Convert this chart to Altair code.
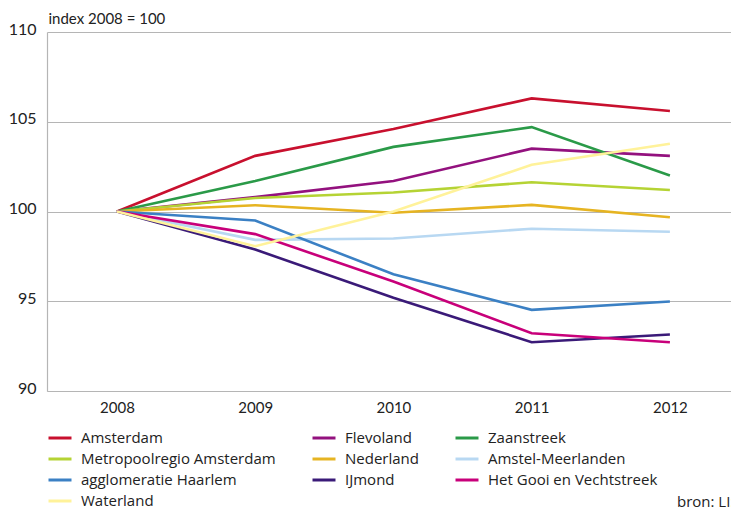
import altair as alt
import pandas as pd

years = [2008, 2009, 2010, 2011, 2012]
series = [
    "Amsterdam", "Flevoland", "Zaanstreek",
    "Metropoolregio Amsterdam", "Nederland", "Amstel-Meerlanden",
    "agglomeratie Haarlem", "IJmond", "Het Gooi en Vechtstreek",
    "Waterland",
]
colors = [
    "#c8102e", "#93117e", "#2a9a48",
    "#b5d334", "#e6b422", "#b8d8f2",
    "#3b80c4", "#3a1a78", "#c8007a",
    "#fff29a",
]
amsterdam = [100, 103.1, 104.6, 106.3, 105.6]
flevoland = [100, 100.8, 101.7, 103.5, 103.1]
zaanstreek = [100, 101.7, 103.6, 104.7, 102.0]
metropoolregio = [100, 100.75, 101.06, 101.63, 101.2]
nederland = [100, 100.35, 99.93, 100.37, 99.68]
amstel = [100, 98.42, 98.5, 99.04, 98.87]
haarlem = [100, 99.5, 96.5, 94.52, 94.99]
ijmond = [100, 97.88, 95.2, 92.72, 93.15]
gooi = [100, 98.74, 96.1, 93.22, 92.72]
waterland = [100, 98.07, 100.0, 102.6, 103.77]

values = [amsterdam, flevoland, zaanstreek, metropoolregio, nederland,
          amstel, haarlem, ijmond, gooi, waterland]

rows = []
for name, vals in zip(series, values):
    for yr, v in zip(years, vals):
        rows.append({"regio": name, "jaar": yr, "index": v})
df = pd.DataFrame(rows)

FONT = "Lato"
LFONT = "Open Sans"

lines = alt.Chart(df).mark_line(strokeWidth=2.6).encode(
    x=alt.X("jaar:Q",
            scale=alt.Scale(domain=[2007.494, 2012.442], nice=False, zero=False),
            axis=alt.Axis(values=years, format="d", title=None, grid=False,
                          ticks=False, labelPadding=9, labelFontSize=15,
                          labelColor="#222222", labelFont=FONT,
                          domainColor="#b5b5b5", domainWidth=1.2)),
    y=alt.Y("index:Q",
            scale=alt.Scale(domain=[90, 110], nice=False, zero=False),
            axis=alt.Axis(values=[90, 95, 100, 105, 110], title="index 2008 = 100",
                          titleAngle=0, titleAlign="left", titleBaseline="middle",
                          titleX=1, titleY=-14, titleFontSize=15, titleFontWeight="normal",
                          titleFont=FONT, titleColor="#222222",
                          ticks=False, labelPadding=11, labelFontSize=16,
                          labelColor="#222222", labelFont=FONT, labelOffset=-3,
                          grid=True, gridColor="#b5b5b5", gridWidth=1.2,
                          domainColor="#b5b5b5", domainWidth=1.2)),
    color=alt.Color("regio:N",
                    scale=alt.Scale(domain=series, range=colors),
                    sort=series,
                    legend=alt.Legend(title=None, orient="none", legendX=0, legendY=393,
                                      columns=3, direction="horizontal",
                                      symbolType="stroke", symbolSize=529,
                                      symbolStrokeWidth=3, labelFontSize=15,
                                      labelFont=LFONT, labelColor="#222222",
                                      labelOffset=8, columnPadding=30, rowPadding=0,
                                      labelLimit=400)),
)

src = alt.Chart(pd.DataFrame({"t": ["bron: LIS"]})).mark_text(
    align="left", baseline="middle", fontSize=15, font=LFONT, color="#222222"
).encode(x=alt.value(630), y=alt.value(470), text="t:N")

chart = alt.layer(lines, src).properties(
    width=684, height=359,
    autosize=alt.AutoSizeParams(type="none"),
    padding={"left": 39, "top": 24, "right": 0, "bottom": 119},
).configure_view(stroke=None)

chart.save("out.html", embed_options={"renderer": "svg", "actions": False})
